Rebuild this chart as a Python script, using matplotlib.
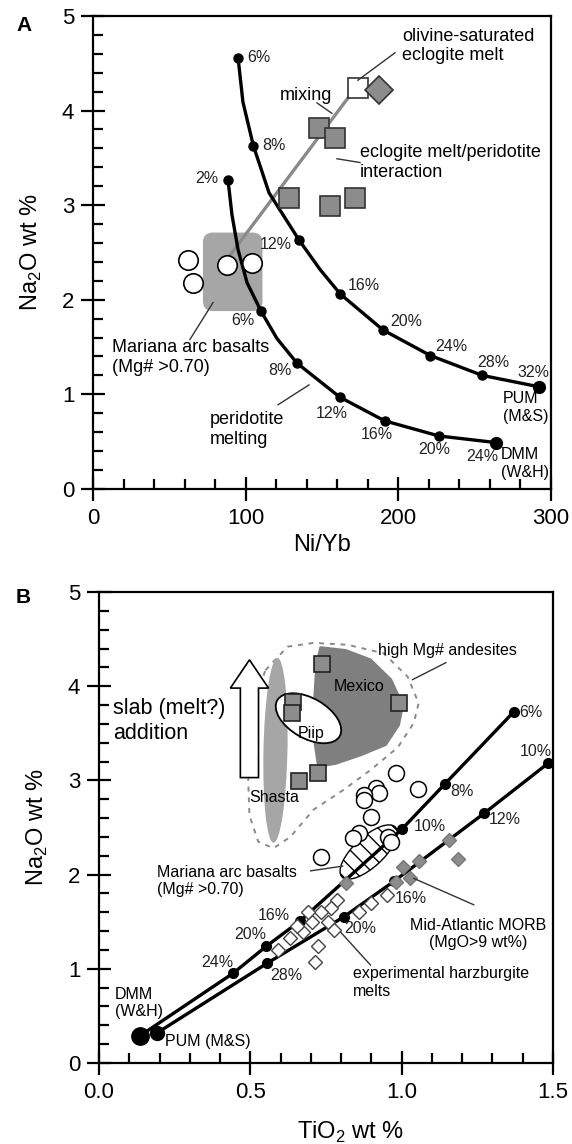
import matplotlib
matplotlib.use("Agg")
import matplotlib.pyplot as plt
from matplotlib.patches import Ellipse, Polygon, FancyBboxPatch, FancyArrow
from matplotlib.transforms import ScaledTranslation
from matplotlib.ticker import MultipleLocator, FormatStrFormatter

plt.rcParams['font.family'] = ['Liberation Sans', 'DejaVu Sans']
plt.rcParams['mathtext.fontset'] = 'custom'
plt.rcParams['mathtext.rm'] = 'Liberation Sans'
plt.rcParams['hatch.linewidth'] = 1.0

# ---------------- Panel A data (Ni/Yb vs Na2O) ----------------
pum_a_x = [95, 105, 135, 162, 190, 221, 255, 292]
pum_a_y = [4.56, 3.63, 2.63, 2.06, 1.68, 1.41, 1.20, 1.08]
pum_a_curve_x = [95, 98.2, 105, 115.3, 135, 148.7, 162, 190, 221, 255, 292]
pum_a_curve_y = [4.56, 4.09, 3.63, 3.13, 2.63, 2.32, 2.06, 1.68, 1.41, 1.20, 1.08]

dmm_a_x = [88.4, 110, 133.6, 161.7, 191, 226.6, 264]
dmm_a_y = [3.27, 1.88, 1.33, 0.97, 0.72, 0.56, 0.49]
dmm_a_curve_x = [88.4, 91, 95, 100.9, 110, 120.5, 133.6, 161.7, 191, 226.6, 264]
dmm_a_curve_y = [3.27, 2.90, 2.53, 2.18, 1.88, 1.59, 1.33, 0.97, 0.72, 0.56, 0.49]

mariana_a_x = [62, 65.6, 87.6, 104]
mariana_a_y = [2.42, 2.18, 2.37, 2.39]

interaction_x = [148, 158.5, 128.5, 155, 171.6]
interaction_y = [3.82, 3.71, 3.07, 2.99, 3.08]

mixing_x = [89.7, 172]
mixing_y = [2.47, 4.24]
eclogite_sq = (173.5, 4.24)
eclogite_dia = (187.3, 4.22)

# ---------------- Panel B data (TiO2 vs Na2O) ----------------
dmm_b_x = [0.136, 0.444, 0.553, 0.665, 1.0, 1.142, 1.371]
dmm_b_y = [0.29, 0.955, 1.24, 1.51, 2.48, 2.96, 3.73]
pum_b_x = [0.192, 0.556, 0.808, 0.975, 1.272, 1.483]
pum_b_y = [0.32, 1.06, 1.55, 1.93, 2.65, 3.18]

mariana_b_x = [0.98, 1.053, 0.914, 0.924, 0.874, 0.874, 0.897, 0.858, 0.838, 0.954, 0.964, 0.732]
mariana_b_y = [3.08, 2.91, 2.92, 2.87, 2.85, 2.79, 2.61, 2.44, 2.39, 2.40, 2.35, 2.19]

andesite_x = [0.642, 0.639, 0.738, 0.99, 0.662, 0.722]
andesite_y = [3.83, 3.72, 4.24, 3.82, 2.99, 3.08]

morb_x = [1.156, 1.185, 1.056, 1.003, 1.026, 0.98, 0.817]
morb_y = [2.37, 2.17, 2.14, 2.08, 1.96, 1.92, 1.91]

harz_x = [0.95, 0.897, 0.858, 0.785, 0.765, 0.732, 0.705, 0.755, 0.675, 0.632,
          0.593, 0.725, 0.715, 0.775, 0.69, 0.655]
harz_y = [1.78, 1.70, 1.60, 1.73, 1.65, 1.60, 1.50, 1.50, 1.39, 1.33,
          1.20, 1.24, 1.07, 1.41, 1.60, 1.45]

mexico_x = [0.732, 0.815, 0.897, 0.964, 1.003, 0.990, 0.947, 0.864, 0.781, 0.725, 0.712, 0.712, 0.719]
mexico_y = [4.41, 4.38, 4.28, 4.07, 3.80, 3.59, 3.38, 3.27, 3.18, 3.15, 3.43, 3.85, 4.22]

hma_x = [0.550, 0.623, 0.709, 0.821, 0.940, 1.020, 1.056, 1.040, 0.987, 0.897,
         0.808, 0.709, 0.632, 0.576, 0.526, 0.497, 0.493, 0.503, 0.520]
hma_y = [4.17, 4.42, 4.46, 4.44, 4.35, 4.10, 3.82, 3.61, 3.35, 3.11,
         2.90, 2.69, 2.40, 2.28, 2.35, 2.63, 3.00, 3.54, 3.91]

fig = plt.figure(figsize=(5.72, 11.44), dpi=100)
axA = fig.add_axes([0.1626, 0.5726, 0.8007, 0.4135])
axB = fig.add_axes([0.1731, 0.0708, 0.7937, 0.4117])


def style_axes(ax):
    for sp in ax.spines.values():
        sp.set_linewidth(1.6)
    ax.tick_params(which='major', direction='inout', length=17, width=1.6,
                   labelsize=16, pad=5, top=False, right=False)
    ax.tick_params(which='minor', direction='in', length=7, width=1.6,
                   top=False, right=False)
    ax.set_ylim(0, 5)
    ax.yaxis.set_major_locator(MultipleLocator(1))
    ax.yaxis.set_minor_locator(MultipleLocator(0.2))
    ax.set_ylabel(r'Na$_\mathregular{2}$O wt %', fontsize=17, labelpad=13)


def inch_ellipse(ax, cx, cy, w, h, ang, **kw):
    tr = fig.dpi_scale_trans + ScaledTranslation(cx, cy, ax.transData)
    ax.add_patch(Ellipse((0, 0), w, h, angle=ang, transform=tr, **kw))


# ===================== Panel A =====================
ax = axA
style_axes(ax)
ax.set_xlim(0, 300)
ax.xaxis.set_major_locator(MultipleLocator(100))
ax.xaxis.set_minor_locator(MultipleLocator(20))
ax.set_xlabel('Ni/Yb', fontsize=17, labelpad=4)

ax.add_patch(FancyBboxPatch((72, 1.88), 39, 0.83,
                            boxstyle='round,pad=0,rounding_size=6.5',
                            mutation_aspect=1.527 / 94.6,
                            fc='#a6a6a6', ec='none', zorder=1))

ax.plot(mixing_x, mixing_y, color='#8a8a8a', lw=2.4, zorder=2)
ax.plot(pum_a_curve_x, pum_a_curve_y, color='black', lw=2.4, zorder=3)
ax.plot(dmm_a_curve_x, dmm_a_curve_y, color='black', lw=2.4, zorder=3)
ax.plot(pum_a_x[:-1], pum_a_y[:-1], 'o', color='black', ms=6.5, zorder=4)
ax.plot(dmm_a_x[:-1], dmm_a_y[:-1], 'o', color='black', ms=6.5, zorder=4)
ax.plot(pum_a_x[-1:], pum_a_y[-1:], 'o', color='black', ms=8.5, zorder=4)
ax.plot(dmm_a_x[-1:], dmm_a_y[-1:], 'o', color='black', ms=8.5, zorder=4)

ax.plot(interaction_x, interaction_y, 's', ms=15, mfc='#8c8c8c', mec='#333333', mew=1.2, zorder=5)
ax.plot(*eclogite_sq, 's', ms=14, mfc='white', mec='#333333', mew=1.2, zorder=5)
ax.plot(*eclogite_dia, 'D', ms=14, mfc='#8c8c8c', mec='#333333', mew=1.2, zorder=5)
ax.plot(mariana_a_x, mariana_a_y, 'o', ms=14, mfc='white', mec='black', mew=1.2, zorder=5)

pum_a_lbl = [('6%', 100.8, 4.56, 'left'), ('8%', 110.7, 3.63, 'left'),
             ('12%', 130.3, 2.58, 'right'), ('16%', 167, 2.15, 'left'),
             ('20%', 194.5, 1.77, 'left'), ('24%', 224, 1.51, 'left'),
             ('28%', 251.5, 1.34, 'left'), ('32%', 277.7, 1.23, 'left')]
dmm_a_lbl = [('2%', 81.9, 3.28, 'right'), ('6%', 98.2, 1.78, 'center'),
             ('8%', 122.5, 1.25, 'center'), ('12%', 156.5, 0.80, 'center'),
             ('16%', 186, 0.58, 'center'), ('20%', 223.3, 0.42, 'center'),
             ('24%', 254.7, 0.34, 'center')]
for t, x, y, ha in pum_a_lbl + dmm_a_lbl:
    ax.text(x, y, t, fontsize=11.5, ha=ha, va='center', color='#222222', zorder=6)

ax.text(202.4, 4.68, 'olivine-saturated\neclogite melt', fontsize=13, va='center')
ax.text(122.5, 4.16, 'mixing', fontsize=13, va='center')
ax.text(174.9, 3.45, 'eclogite melt/peridotite\ninteraction', fontsize=13, va='center')
ax.text(12.4, 1.39, 'Mariana arc basalts\n(Mg# >0.70)', fontsize=13, va='center')
ax.text(76.6, 0.63, 'peridotite\nmelting', fontsize=13, va='center')
ax.text(268.5, 0.86, 'PUM\n(M&S)', fontsize=11.5, va='center')
ax.text(267.2, 0.27, 'DMM\n(W&H)', fontsize=11.5, va='center')

leaders_a = [((197.8, 173.5), (4.61, 4.32)), ((146.7, 156.5), (4.08, 3.97)),
             ((159.8, 174.9), (3.49, 3.45)), ((63.5, 78.6), (1.58, 1.97)),
             ((121.2, 141.5), (0.89, 1.10))]
for lx, ly in leaders_a:
    ax.plot(lx, ly, color='#333333', lw=1.0, zorder=6)

fig.text(0.028, 0.978, 'A', fontsize=15, fontweight='bold', va='center')

# ===================== Panel B =====================
ax = axB
style_axes(ax)
ax.set_xlim(0, 1.5)
ax.xaxis.set_major_locator(MultipleLocator(0.5))
ax.xaxis.set_minor_locator(MultipleLocator(0.1))
ax.xaxis.set_major_formatter(FormatStrFormatter('%.1f'))
ax.set_xlabel(r'TiO$_\mathregular{2}$ wt %', fontsize=17, labelpad=12, x=0.555)

ax.add_patch(Polygon(list(zip(hma_x, hma_y)), closed=True, fill=False,
                     ec='#8a8a8a', lw=1.4, ls=(0, (2.5, 3)), zorder=1))
inch_ellipse(ax, 0.583, 3.32, 0.24, 1.85, -1.2, fc='#a6a6a6', ec='none', zorder=1)
ax.add_patch(Polygon(list(zip(mexico_x, mexico_y)), closed=True,
                     fc='#7f7f7f', ec='#7f7f7f', lw=2, joinstyle='round', zorder=1))
inch_ellipse(ax, 0.692, 3.66, 0.72, 0.40, -30, fc='white', ec='black', lw=1.3, zorder=2)
inch_ellipse(ax, 0.891, 2.24, 0.73, 0.30, 42.8, fc='white', ec='black', lw=1.0,
             hatch='\\\\', zorder=2)

ax.add_patch(FancyArrow(0.497, 3.03, 0, 1.25, width=0.06, head_width=0.126,
                        head_length=0.3, length_includes_head=True,
                        fc='white', ec='black', lw=1.2, zorder=3))

ax.plot(dmm_b_x, dmm_b_y, color='black', lw=2.4, zorder=3)
ax.plot(pum_b_x, pum_b_y, color='black', lw=2.4, zorder=3)
ax.plot(dmm_b_x[1:], dmm_b_y[1:], 'o', color='black', ms=7, zorder=4)
ax.plot(pum_b_x[1:], pum_b_y[1:], 'o', color='black', ms=7, zorder=4)
ax.plot(dmm_b_x[:1], dmm_b_y[:1], 'o', color='black', ms=12.5, zorder=4)
ax.plot(pum_b_x[:1], pum_b_y[:1], 'o', color='black', ms=10, zorder=4)

ax.plot(harz_x, harz_y, 'D', ms=7, mfc='white', mec='#444444', mew=1.0, zorder=5)
ax.plot(morb_x, morb_y, 'D', ms=7, mfc='#8c8c8c', mec='#777777', mew=1.0, zorder=5)
ax.plot(mariana_b_x, mariana_b_y, 'o', ms=11.5, mfc='white', mec='black', mew=1.1, zorder=5)
ax.plot(andesite_x, andesite_y, 's', ms=12, mfc='#8c8c8c', mec='#222222', mew=1.2, zorder=5)

dmm_b_lbl = [('6%', 1.387, 3.72, 'left'), ('8%', 1.162, 2.88, 'left'),
             ('10%', 1.04, 2.51, 'left'), ('16%', 0.632, 1.57, 'right'),
             ('20%', 0.5, 1.36, 'center'), ('24%', 0.391, 1.07, 'center')]
pum_b_lbl = [('10%', 1.444, 3.31, 'center'), ('12%', 1.288, 2.58, 'left'),
             ('16%', 1.03, 1.75, 'center'), ('20%', 0.864, 1.43, 'center'),
             ('28%', 0.619, 0.93, 'center')]
for t, x, y, ha in dmm_b_lbl + pum_b_lbl:
    ax.text(x, y, t, fontsize=11.5, ha=ha, va='center', color='#222222', zorder=6)

ax.text(0.046, 3.63, 'slab (melt?)\naddition', fontsize=15.5, va='center')
ax.text(0.497, 2.82, 'Shasta', fontsize=11.5, va='center', zorder=6)
ax.text(0.702, 3.50, 'Piip', fontsize=11.5, ha='center', va='center', zorder=6)
ax.text(0.858, 4.00, 'Mexico', fontsize=11.5, ha='center', va='center', zorder=6)
ax.text(1.152, 4.38, 'high Mg# andesites', fontsize=11.5, ha='center', va='center')
ax.text(0.192, 1.93, 'Mariana arc basalts\n(Mg# >0.70)', fontsize=11.5, va='center')
ax.text(1.252, 1.37, 'Mid-Atlantic MORB\n(MgO>9 wt%)', fontsize=11.5, ha='center',
        va='center', multialignment='center')
ax.text(0.838, 0.855, 'experimental harzburgite\nmelts', fontsize=11.5, va='center')
ax.text(0.053, 0.64, 'DMM\n(W&H)', fontsize=11.5, va='center')
ax.text(0.219, 0.23, 'PUM (M&S)', fontsize=11.5, va='center')

leaders_b = [((1.146, 1.036), (4.25, 4.07)), ((0.699, 0.805), (2.04, 2.09)),
             ((1.238, 1.04), (1.68, 1.96)), ((0.897, 0.798), (1.04, 1.39))]
for lx, ly in leaders_b:
    ax.plot(lx, ly, color='#333333', lw=1.0, zorder=6)

fig.text(0.028, 0.478, 'B', fontsize=15, fontweight='bold', va='center')

fig.savefig('out.png', dpi=100)
